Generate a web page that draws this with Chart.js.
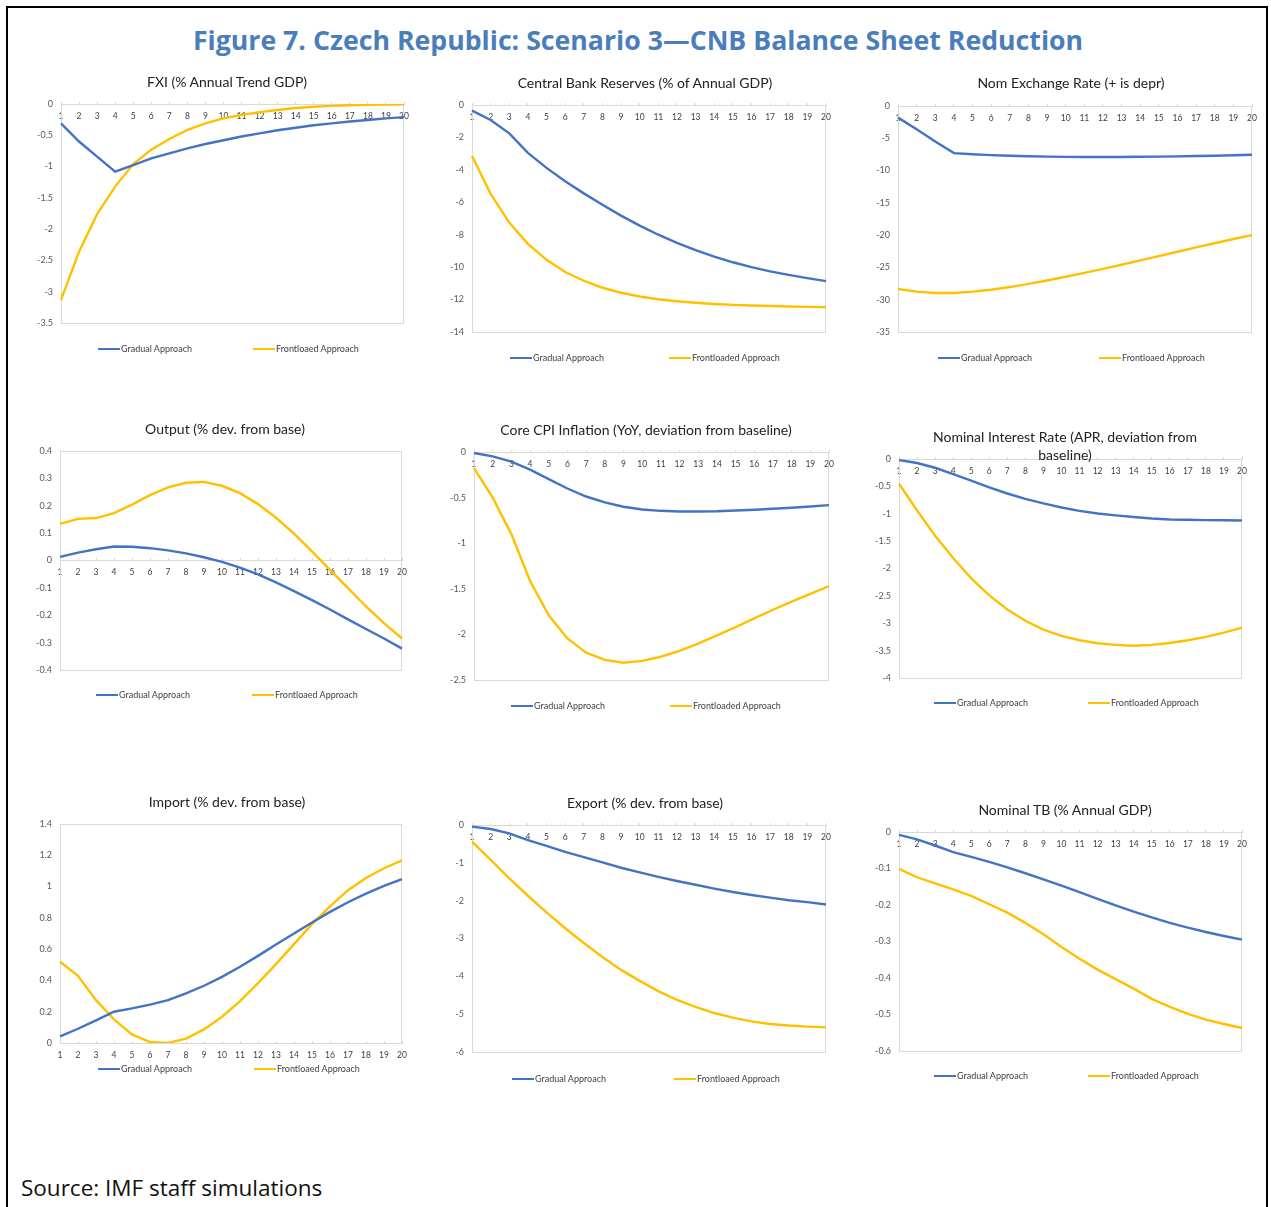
<!DOCTYPE html>
<html>
<head>
<meta charset="utf-8">
<script src="https://cdn.jsdelivr.net/npm/chart.js@4.4.1/dist/chart.umd.min.js"></script>
<style>
  body { margin: 0; background: #fff; width: 1271px; height: 1207px; overflow: hidden; position: relative; font-family: Lato, sans-serif; }
  #frame { position: absolute; left: 6px; top: 6px; width: 1262px; height: 1300px; border: 2px solid #000; box-sizing: border-box; }
  #figTitle { position: absolute; left: 638px; top: 40px; transform: translate(-50%, -50%); font: 700 26.7px "Open Sans", sans-serif; color: #4a7ebb; white-space: nowrap; line-height: 1; }
  #source { position: absolute; left: 21px; top: 1188px; transform: translateY(-50%); font: 22.5px "Open Sans", sans-serif; color: #111; white-space: nowrap; line-height: 1; }
  .ptitle { position: absolute; transform: translate(-50%, -50%); font-size: 14px; color: #222; white-space: nowrap; text-align: center; line-height: 18px; }
  .lg { position: absolute; transform: translateY(-50%); font-size: 9px; color: #404040; white-space: nowrap; line-height: 10px; }
  .lg i { display: inline-block; width: 22px; height: 2px; vertical-align: middle; margin-right: 1px; position: relative; top: -1px; }
  canvas { position: absolute; }
</style>
</head>
<body>
<div id="frame"></div>
<div id="figTitle">Figure 7. Czech Republic: Scenario 3—CNB Balance Sheet Reduction</div>
<div id="source">Source: IMF staff simulations</div>
<script>
// periods on the x axis
const periods = ['1', '2', '3', '4', '5', '6', '7', '8', '9', '10', '11', '12', '13', '14', '15', '16', '17', '18', '19', '20'];
const gradualName = 'Gradual Approach';

// FXI (% Annual Trend GDP)
const fxiTicks = [0, -0.5, -1, -1.5, -2, -2.5, -3, -3.5];
const fxiGradual = [-0.31, -0.60, -0.84, -1.08, -0.975, -0.87, -0.79, -0.71, -0.64, -0.58, -0.52, -0.47, -0.42, -0.38, -0.34, -0.31, -0.28, -0.255, -0.23, -0.21];
const fxiFront = [-3.13, -2.36, -1.76, -1.32, -0.96, -0.73, -0.56, -0.415, -0.31, -0.23, -0.175, -0.13, -0.095, -0.065, -0.045, -0.03, -0.02, -0.012, -0.008, -0.005];

// Central Bank Reserves (% of Annual GDP)
const cbrTicks = [0, -2, -4, -6, -8, -10, -12, -14];
const cbrGradual = [-0.35, -0.92, -1.75, -2.95, -3.88, -4.7, -5.45, -6.15, -6.82, -7.44, -8.0, -8.5, -8.95, -9.35, -9.7, -10.0, -10.26, -10.48, -10.68, -10.86];
const cbrFront = [-3.14, -5.48, -7.25, -8.56, -9.55, -10.3, -10.84, -11.27, -11.58, -11.81, -11.98, -12.1, -12.2, -12.27, -12.33, -12.37, -12.4, -12.43, -12.45, -12.47];

// Nom Exchange Rate (+ is depr)
const fxTicks = [0, -5, -10, -15, -20, -25, -30, -35];
const fxGradual = [-1.8, -3.6, -5.5, -7.3, -7.47, -7.6, -7.7, -7.78, -7.84, -7.88, -7.9, -7.9, -7.89, -7.87, -7.84, -7.8, -7.75, -7.7, -7.63, -7.55];
const fxFront = [-28.35, -28.75, -28.97, -28.97, -28.75, -28.45, -28.04, -27.55, -27.02, -26.45, -25.85, -25.22, -24.58, -23.92, -23.25, -22.57, -21.9, -21.25, -20.6, -20.0];

// Output (% dev. from base)
const outTicks = [0.4, 0.3, 0.2, 0.1, 0, -0.1, -0.2, -0.3, -0.4];
const outGradual = [0.013, 0.029, 0.041, 0.051, 0.05, 0.045, 0.037, 0.026, 0.012, -0.005, -0.026, -0.051, -0.08, -0.112, -0.145, -0.179, -0.215, -0.25, -0.285, -0.322];
const outFront = [0.134, 0.152, 0.155, 0.173, 0.204, 0.239, 0.267, 0.284, 0.287, 0.273, 0.246, 0.206, 0.156, 0.098, 0.033, -0.034, -0.101, -0.168, -0.229, -0.285];

// Core CPI Inflation (YoY, deviation from baseline)
const cpiTicks = [0, -0.5, -1, -1.5, -2, -2.5];
const cpiGradual = [-0.011, -0.048, -0.106, -0.194, -0.297, -0.4, -0.488, -0.553, -0.6, -0.63, -0.645, -0.652, -0.652, -0.649, -0.641, -0.634, -0.623, -0.612, -0.598, -0.583];
const cpiFront = [-0.176, -0.5, -0.9, -1.415, -1.79, -2.045, -2.2, -2.28, -2.31, -2.29, -2.245, -2.18, -2.1, -2.01, -1.92, -1.825, -1.73, -1.64, -1.555, -1.47];

// Nominal Interest Rate (APR, deviation from baseline)
const irTicks = [0, -0.5, -1, -1.5, -2, -2.5, -3, -3.5, -4];
const irGradual = [-0.02, -0.073, -0.16, -0.275, -0.397, -0.52, -0.63, -0.727, -0.81, -0.885, -0.947, -0.995, -1.03, -1.06, -1.087, -1.105, -1.11, -1.117, -1.12, -1.124];
const irFront = [-0.452, -0.94, -1.4, -1.81, -2.18, -2.49, -2.75, -2.955, -3.115, -3.23, -3.31, -3.365, -3.395, -3.41, -3.395, -3.36, -3.31, -3.25, -3.17, -3.08];

// Import (% dev. from base)
const impTicks = [1.4, 1.2, 1, 0.8, 0.6, 0.4, 0.2, 0];
const impGradual = [0.043, 0.091, 0.145, 0.2, 0.221, 0.245, 0.274, 0.317, 0.366, 0.423, 0.487, 0.557, 0.63, 0.7, 0.77, 0.838, 0.9, 0.955, 1.004, 1.047];
const impFront = [0.519, 0.43, 0.274, 0.151, 0.055, 0.006, 0.0, 0.028, 0.087, 0.168, 0.268, 0.383, 0.504, 0.632, 0.76, 0.874, 0.977, 1.055, 1.117, 1.168];

// Export (% dev. from base)
const expTicks = [0, -1, -2, -3, -4, -5, -6];
const expGradual = [-0.044, -0.106, -0.22, -0.4, -0.55, -0.71, -0.85, -0.99, -1.13, -1.25, -1.37, -1.48, -1.58, -1.68, -1.77, -1.85, -1.92, -1.99, -2.04, -2.1];
const expFront = [-0.44, -0.92, -1.41, -1.87, -2.31, -2.73, -3.12, -3.49, -3.83, -4.12, -4.39, -4.62, -4.81, -4.97, -5.09, -5.19, -5.26, -5.3, -5.33, -5.35];

// Nominal TB (% Annual GDP)
const tbTicks = [0, -0.1, -0.2, -0.3, -0.4, -0.5, -0.6];
const tbGradual = [-0.008, -0.02, -0.037, -0.055, -0.068, -0.082, -0.097, -0.113, -0.13, -0.147, -0.165, -0.183, -0.201, -0.218, -0.234, -0.249, -0.262, -0.274, -0.285, -0.295];
const tbFront = [-0.101, -0.124, -0.141, -0.157, -0.175, -0.198, -0.221, -0.249, -0.28, -0.315, -0.347, -0.377, -0.403, -0.429, -0.457, -0.479, -0.498, -0.514, -0.526, -0.537];

const BLUE = '#4472c4';
const GOLD = '#ffc000';

// box = plot area [left, top, right, bottom]; title = centre; legend = [x of item 1, x of item 2, y]
const panels = [
  { title: ['FXI (% Annual Trend GDP)'], ticks: fxiTicks, g: fxiGradual, f: fxiFront, fName: 'Frontloaed Approach',
    box: [61, 104, 404, 323], titleAt: [227, 82], legendAt: [98, 253, 349] },
  { title: ['Central Bank Reserves (% of Annual GDP)'], ticks: cbrTicks, g: cbrGradual, f: cbrFront, fName: 'Frontloaded Approach',
    box: [472, 105, 826, 332], titleAt: [645, 83], legendAt: [510, 669, 358] },
  { title: ['Nom Exchange Rate (+ is depr)'], ticks: fxTicks, g: fxGradual, f: fxFront, fName: 'Frontloaed Approach',
    box: [898, 106, 1252, 332], titleAt: [1071, 83], legendAt: [938, 1099, 358] },
  { title: ['Output (% dev. from base)'], ticks: outTicks, g: outGradual, f: outFront, fName: 'Frontloaed Approach',
    box: [60, 451, 402, 670], titleAt: [225, 429], legendAt: [96, 252, 695] },
  { title: ['Core CPI Inflation (YoY, deviation from baseline)'], ticks: cpiTicks, g: cpiGradual, f: cpiFront, fName: 'Frontloaded Approach',
    box: [474, 452, 829, 680], titleAt: [646, 430], legendAt: [511, 670, 706] },
  { title: ['Nominal Interest Rate (APR, deviation from', 'baseline)'], ticks: irTicks, g: irGradual, f: irFront, fName: 'Frontloaded Approach',
    box: [899, 459, 1242, 678], titleAt: [1065, 446], legendAt: [934, 1088, 703] },
  { title: ['Import (% dev. from base)'], ticks: impTicks, g: impGradual, f: impFront, fName: 'Frontloaed Approach',
    box: [60, 824, 402, 1043], titleAt: [227, 802], legendAt: [98, 254, 1069] },
  { title: ['Export (% dev. from base)'], ticks: expTicks, g: expGradual, f: expFront, fName: 'Frontloaed Approach',
    box: [472, 825, 826, 1052], titleAt: [645, 803], legendAt: [512, 674, 1079] },
  { title: ['Nominal TB (% Annual GDP)'], ticks: tbTicks, g: tbGradual, f: tbFront, fName: 'Frontloaded Approach',
    box: [899, 832, 1242, 1051], titleAt: [1065, 810], legendAt: [934, 1088, 1076] }
];

// light grey border round the plot area, Excel style
const plotFrame = {
  id: 'plotFrame',
  beforeDatasetsDraw(chart) {
    const { ctx, chartArea: a } = chart;
    ctx.save();
    ctx.strokeStyle = '#d9d9d9';
    ctx.lineWidth = 1;
    ctx.strokeRect(Math.round(a.left) + 0.5, Math.round(a.top) + 0.5, Math.round(a.width) - 1, Math.round(a.height));
    ctx.restore();
  }
};

// canvas margins round the plot area (large enough to cover the scales' own label padding)
const padL = 45, padT = 18, padR = 20, padB = 24;

function addText(cls, x, y, html) {
  const d = document.createElement('div');
  d.className = cls;
  d.style.left = x + 'px';
  d.style.top = y + 'px';
  d.innerHTML = html;
  document.body.appendChild(d);
}

panels.forEach(p => {
  const [x0, y0, x1, y1] = p.box;
  const w = (x1 - x0) + padL + padR;
  const h = (y1 - y0) + padT + padB;
  const canvas = document.createElement('canvas');
  canvas.width = w;
  canvas.height = h;
  canvas.style.left = (x0 - padL) + 'px';
  canvas.style.top = (y0 - padT) + 'px';
  canvas.style.width = w + 'px';
  canvas.style.height = h + 'px';
  document.body.appendChild(canvas);

  const yMin = Math.min(...p.ticks);
  const yMax = Math.max(...p.ticks);
  const yStep = Math.abs(p.ticks[0] - p.ticks[1]);

  new Chart(canvas, {
    type: 'line',
    data: {
      labels: periods,
      datasets: [
        { label: gradualName, data: p.g, borderColor: BLUE, backgroundColor: BLUE, borderWidth: 2.4, pointRadius: 0, tension: 0 },
        { label: p.fName, data: p.f, borderColor: GOLD, backgroundColor: GOLD, borderWidth: 2.4, pointRadius: 0, tension: 0 }
      ]
    },
    options: {
      responsive: false,
      animation: false,
      devicePixelRatio: 1,
      layout: { padding: { left: 0, top: padT, right: padR, bottom: padB } },
      plugins: { legend: { display: false }, tooltip: { enabled: false } },
      scales: {
        x: {
          type: 'category',
          position: { y: 0 },
          offset: false,
          grid: { display: true, drawOnChartArea: false, color: '#d9d9d9', tickLength: -3 },
          border: { color: '#d9d9d9' },
          ticks: { autoSkip: false, maxRotation: 0, padding: 10, color: '#404040', font: { family: 'Lato', size: 8.5 } },
          afterFit: s => { s.height = 0; }
        },
        y: {
          min: yMin,
          max: yMax,
          grid: { display: false, drawTicks: false },
          border: { display: false },
          ticks: {
            stepSize: yStep, padding: 8, color: '#595959',
            font: { family: 'Lato', size: 9 },
            format: { minimumFractionDigits: 0, maximumFractionDigits: 2 }
          },
          afterFit: s => { s.width = padL; }
        }
      }
    },
    plugins: [plotFrame]
  });

  addText('ptitle', p.titleAt[0], p.titleAt[1], p.title.join('<br>'));
  const [lx1, lx2, ly] = p.legendAt;
  addText('lg', lx1, ly, '<i style="background:' + BLUE + '"></i>' + gradualName);
  addText('lg', lx2, ly, '<i style="background:' + GOLD + '"></i>' + p.fName);
});
</script>
</body>
</html>
